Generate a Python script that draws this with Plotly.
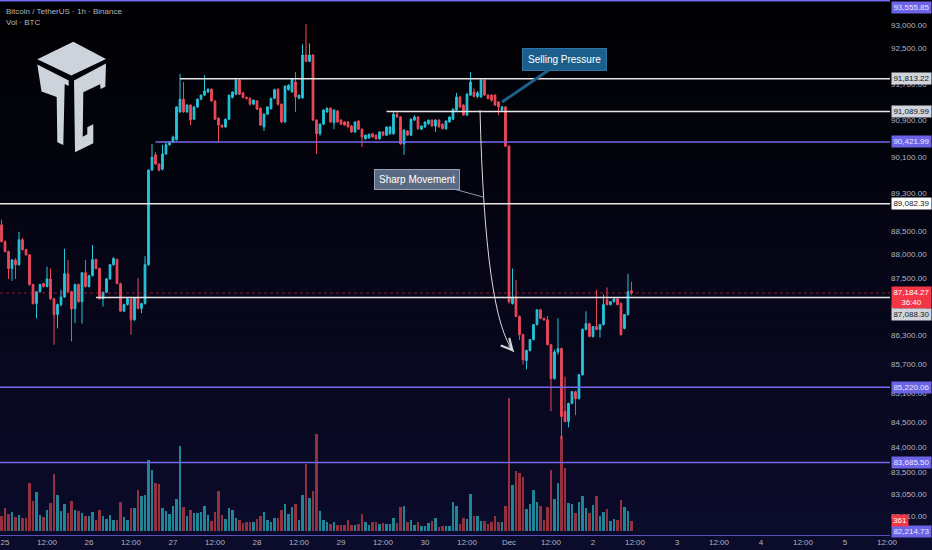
import math
import pandas as pd
import plotly.graph_objects as go

# ---------------- data (1h candles, Nov 24 23:00 -> Dec 2 10:00) ----------------
times = pd.date_range("2025-11-24 23:00", periods=181, freq="h")

open_ = [
    88630, 88270, 88060, 87700, 87880, 87780, 88310, 88100, 87990, 87360,
    86960, 87210, 87380, 87320, 87480, 87060, 86730, 86940, 87100, 87590,
    87210, 86850, 87360, 87000, 87610, 87320, 87550, 87890, 87700, 87060,
    87200, 87480, 87780, 87890, 87380, 86800, 86940, 87060, 86620, 87080,
    86860, 86960, 87780, 89810, 90140, 89940, 89830, 90160, 90360, 90420,
    90470, 91080, 91360, 91080, 91230, 90920, 91190, 91360, 91450, 91520,
    91580, 91320, 90940, 90790, 90750, 90920, 91400, 91470, 91780, 91500,
    91400, 91380, 91250, 91320, 91160, 90750, 91030, 91150, 91380, 91580,
    91250, 90860, 91570, 91520, 91740, 91380, 91390, 92340, 92200, 92340,
    90900, 90600, 90810, 91080, 91160, 90840, 91100, 90900, 90860, 90860,
    90770, 90640, 90880, 90700, 90490, 90510, 90600, 90570, 90490, 90640,
    90570, 90600, 90600, 91030, 90970, 90380, 90660, 90570, 90900, 90970,
    90700, 90750, 90820, 90900, 90770, 90900, 90810, 90710, 90860, 90920,
    91120, 91410, 91230, 91010, 91450, 91520, 91420, 91410, 91780, 91450,
    91450, 91450, 91300, 91120, 91190, 90330, 86960, 87100, 86690, 86310,
    85770, 85980, 86210, 86520, 86830, 86650, 86620, 86100, 85400, 85950,
    86020, 84730, 84520, 84890, 85130, 84990, 85480, 86420, 86540, 86270,
    86480, 86420, 86520, 87040, 86940, 87000, 87060, 86960, 86440, 86730,
    87230,
]
high = [
    88740, 88300, 88080, 87900, 87920, 88480, 88350, 88120, 88010, 87380,
    87220, 87380, 87400, 87740, 87700, 87080, 86960, 87250, 88120, 87880,
    87230, 87380, 87380, 87620, 87880, 87560, 88200, 87910, 87720, 87210,
    87500, 87800, 87940, 87910, 87400, 86960, 87080, 87100, 87090, 87500,
    86980, 87960, 89820, 90380, 90200, 89960, 90360, 90420, 90440, 90560,
    91200, 91920, 91740, 91250, 91250, 91210, 91380, 91460, 91890, 91600,
    91600, 91340, 90960, 90800, 90930, 91460, 91530, 91820, 91810, 91520,
    91420, 91400, 91350, 91340, 91180, 91050, 91200, 91390, 91590, 91600,
    91270, 91660, 91690, 91830, 91960, 91460, 92580, 93030, 92600, 92360,
    90920, 90830, 91140, 91180, 91180, 91140, 91120, 90920, 90880, 90880,
    90790, 90870, 90900, 90720, 90580, 90600, 90620, 90590, 90660, 90660,
    90760, 90770, 91080, 91080, 90990, 90700, 90680, 90940, 91010, 90990,
    90780, 90870, 90910, 90920, 90920, 90920, 90830, 90890, 90980, 91150,
    91500, 91430, 91250, 91500, 91960, 91600, 91540, 91830, 91810, 91470,
    91470, 91470, 91320, 91210, 91210, 90350, 87700, 87460, 86710, 86330,
    86000, 86220, 86530, 86840, 86850, 86670, 86700, 86120, 86000, 86650,
    86040, 85440, 84900, 85140, 85150, 85490, 86440, 86800, 86560, 86490,
    87250, 86530, 87150, 87300, 87010, 87070, 87080, 86980, 86740, 87590,
    87420,
]
low = [
    88260, 88040, 87480, 87440, 87480, 87760, 88080, 87970, 87340, 86940,
    86650, 87190, 87300, 87300, 87040, 86100, 86440, 86900, 87080, 87190,
    86170, 86550, 86980, 86540, 87300, 87300, 87530, 87680, 87050, 86900,
    87180, 87460, 87760, 87370, 86790, 86780, 86920, 86310, 86600, 86840,
    86760, 86940, 87760, 89790, 89920, 89780, 89800, 90140, 90340, 90400,
    90450, 91060, 91060, 91060, 90790, 90900, 91170, 91340, 91430, 91500,
    91300, 90900, 90420, 90720, 90730, 90900, 91380, 91450, 91450, 91380,
    91350, 91220, 91230, 91120, 90770, 90660, 91010, 91130, 91360, 91220,
    90830, 90840, 91550, 91500, 91080, 91360, 91370, 92180, 92180, 90880,
    90160, 90560, 90790, 91060, 90840, 90700, 90840, 90800, 90780, 90740,
    90620, 90620, 90690, 90310, 90470, 90490, 90520, 90470, 90470, 90560,
    90550, 90580, 90580, 90950, 90360, 90140, 90560, 90550, 90880, 90690,
    90680, 90730, 90800, 90760, 90640, 90740, 90700, 90690, 90840, 90900,
    91100, 91170, 91000, 90990, 91430, 91400, 91380, 91390, 91430, 91360,
    91300, 91210, 91010, 91100, 90310, 86960, 86940, 86680, 86200, 85690,
    85590, 85960, 86190, 86500, 86630, 86600, 86090, 84730, 85380, 85900,
    84160, 84500, 84400, 84870, 84650, 84970, 85460, 86400, 86260, 86250,
    86400, 86250, 86500, 86920, 86920, 86980, 86920, 86290, 86420, 86710,
    87140,
]
close = [
    88270, 88060, 87700, 87880, 87780, 88310, 88100, 87990, 87360, 86960,
    87210, 87360, 87320, 87480, 87060, 86730, 86940, 87100, 87590, 87210,
    86850, 87360, 87000, 87610, 87320, 87550, 87890, 87700, 87060, 87200,
    87480, 87780, 87910, 87380, 86800, 86940, 87060, 86620, 87080, 86860,
    86960, 87780, 89810, 90090, 89940, 89810, 90160, 90360, 90420, 90530,
    91190, 91360, 91080, 91230, 90900, 91190, 91360, 91450, 91540, 91580,
    91320, 90920, 90790, 90750, 90920, 91450, 91520, 91780, 91470, 91400,
    91380, 91250, 91340, 91140, 90790, 91030, 91190, 91380, 91570, 91250,
    90860, 91650, 91670, 91800, 91410, 91450, 92340, 92200, 92340, 90900,
    90600, 90810, 91120, 91160, 90860, 91120, 90860, 90810, 90790, 90750,
    90640, 90860, 90700, 90530, 90570, 90590, 90530, 90490, 90640, 90570,
    90750, 90750, 91030, 90970, 90380, 90680, 90570, 90920, 90970, 90710,
    90770, 90860, 90900, 90770, 90900, 90750, 90710, 90880, 90970, 91140,
    91410, 91190, 91010, 91470, 91740, 91420, 91500, 91780, 91450, 91370,
    91340, 91230, 91190, 91190, 90330, 87000, 87100, 86690, 86310, 85790,
    85980, 86210, 86520, 86830, 86650, 86620, 86100, 85400, 85950, 86020,
    84620, 84520, 84890, 85130, 84990, 85480, 86420, 86540, 86270, 86480,
    86420, 86520, 86940, 86940, 87000, 87060, 86940, 86310, 86730, 87210,
    87184.27,
]
volume = [
    530, 828, 612, 684, 504, 576, 468, 468, 1728, 1080,
    1404, 576, 504, 756, 1008, 2052, 1296, 720, 972, 648,
    1080, 756, 720, 648, 540, 540, 684, 396, 756, 540,
    432, 576, 396, 396, 1044, 504, 396, 828, 828, 1476,
    1260, 1296, 2556, 2196, 1728, 1692, 828, 720, 612, 900,
    1152, 3060, 864, 540, 756, 648, 648, 684, 900, 576,
    360, 684, 1440, 576, 432, 828, 756, 468, 396, 288,
    324, 324, 324, 432, 540, 684, 396, 324, 468, 468,
    756, 972, 612, 864, 972, 396, 1296, 2412, 1188, 1440,
    3492, 720, 396, 324, 252, 324, 216, 216, 216, 396,
    216, 216, 252, 612, 324, 216, 324, 324, 252, 288,
    252, 252, 468, 288, 864, 900, 324, 396, 216, 324,
    180, 180, 288, 360, 468, 144, 180, 180, 180, 1044,
    900, 252, 468, 432, 1332, 540, 540, 360, 360, 252,
    324, 540, 324, 324, 900, 4788, 1656, 2160, 2088, 1944,
    792, 972, 1476, 1044, 900, 396, 864, 2196, 1152, 1728,
    3420, 2268, 1008, 972, 648, 1044, 1260, 828, 648, 936,
    1260, 540, 684, 792, 360, 432, 396, 1116, 864, 720,
    361,
]

# price-axis tick values / labels
y_tickvals = [93000, 92500, 91700, 90900, 90100, 89300, 88500, 88000, 87500,
              86900, 86300, 85700, 85100, 84500, 84000, 83500, 83050, 82610]
y_ticktext = ["{:,.2f}".format(v) for v in y_tickvals]

# time-axis ticks
x_tickvals = pd.date_range("2025-11-25 00:00", "2025-12-05 12:00", freq="12h")
x_ticktext = ["25", "12:00", "26", "12:00", "27", "12:00", "28", "12:00",
              "29", "12:00", "30", "12:00", "Dec", "12:00", "2", "12:00",
              "3", "12:00", "4", "12:00", "5", "12:00"]

# horizontal levels: (price, start time, kind)
levels = [
    (93555.85, "2025-11-24 20:00", "purple"),
    (91813.22, "2025-11-27 02:00", "white"),
    (91089.99, "2025-11-29 13:00", "white"),
    (90421.99, "2025-11-26 19:00", "purple"),
    (89082.39, "2025-11-24 20:00", "white"),
    (87088.30, "2025-11-26 02:00", "white"),
    (85220.06, "2025-11-24 20:00", "purple"),
    (83685.50, "2025-11-24 20:00", "purple"),
    (82214.73, "2025-11-24 20:00", "purple"),
]
last_price = 87184.27
last_volume = 361

# ---------------- styling ----------------
FONT = "Liberation Sans, Arial, sans-serif"
UP = "#26c6da"
DOWN = "#ef4a5a"
PURPLE = "#7468ee"
WHITE_LINE = "#e6e6e6"
TXT = "#b2b5be"
PLOT_W, PLOT_H = 890.0, 536.0

def pxp(x, y):
    return x / PLOT_W, 1 - y / PLOT_H

vol_colors = ["#1f8597" if c >= o else "#95303f" for o, c in zip(open_, close)]

fig = go.Figure()
fig.add_trace(go.Bar(
    x=times, y=volume, marker_color=vol_colors, marker_line_width=0,
    width=0.72 * 3600 * 1000, yaxis="y", hoverinfo="skip", showlegend=False))
fig.add_trace(go.Candlestick(
    x=times, open=open_, high=high, low=low, close=close, yaxis="y2",
    increasing=dict(line=dict(color=UP, width=1), fillcolor=UP),
    decreasing=dict(line=dict(color=DOWN, width=1), fillcolor=DOWN),
    whiskerwidth=0, hoverinfo="skip", showlegend=False))

shapes = []
# background gradient (black top -> dark navy bottom)
n = 28
y_lo, y_hi = -14 / PLOT_H, 1.0
for i in range(n):
    t = i / (n - 1)
    r = int(round(1 + 10 * t)); g = int(round(1 + 10 * t)); b = int(round(3 + 40 * t))
    ya = y_hi - (y_hi - y_lo) * i / n
    yb = y_hi - (y_hi - y_lo) * (i + 1) / n
    shapes.append(dict(type="rect", xref="paper", yref="paper", x0=0, x1=932 / PLOT_W,
                       y0=yb, y1=ya + 0.002, fillcolor=f"rgb({r},{g},{b})",
                       line=dict(width=0), layer="below"))

# logo (decorative watermark)
def poly(pts):
    s = ""
    for k, (x, y) in enumerate(pts):
        px, py = pxp(x, y)
        s += ("M" if k == 0 else "L") + f"{px:.5f},{py:.5f} "
    return s + "Z"

logo_col = "#cdd3db"
logo_parts = [
    [(37.3, 59.3), (73.3, 41.7), (106, 59), (71.3, 75.5)],
    [(37.3, 64.5), (68.7, 80.5), (68.7, 86), (64.7, 84), (63.3, 145), (57.3, 142.3),
     (56.7, 97), (41.5, 91.5)],
    [(74, 80.5), (106, 63.5), (105.3, 86.7), (100.7, 89), (100, 84.3), (83.3, 92.3),
     (82.7, 136.7), (87.3, 134.3), (87.3, 127.3), (93.3, 124.3), (93.3, 143.3), (75, 152.3)],
]
for p in logo_parts:
    shapes.append(dict(type="path", xref="paper", yref="paper", path=poly(p),
                       fillcolor=logo_col, line=dict(width=0), layer="above"))

# level lines
for price, start, kind in levels:
    col = PURPLE if kind == "purple" else WHITE_LINE
    shapes.append(dict(type="line", xref="x", yref="y2", x0=start, x1="2025-12-07",
                       y0=price, y1=price, line=dict(color=col, width=1.5), layer="above"))
# current price dotted line
shapes.append(dict(type="line", xref="paper", yref="y2", x0=0, x1=1,
                   y0=last_price, y1=last_price,
                   line=dict(color="rgba(242,54,69,0.55)", width=1, dash="dot"), layer="above"))

# curved arrow (Sharp Movement)
a0 = pxp(480, 110); a1 = pxp(485, 318); a2 = pxp(514, 352)
shapes.append(dict(type="path", xref="paper", yref="paper",
                   path=f"M{a0[0]:.5f},{a0[1]:.5f} Q{a1[0]:.5f},{a1[1]:.5f} {a2[0]:.5f},{a2[1]:.5f}",
                   line=dict(color="#d9d9d9", width=1), layer="above"))

annotations = []
# legend texts
t1 = pxp(4, 11); t2 = pxp(4, 23)
annotations.append(dict(xref="paper", yref="paper", x=t1[0], y=t1[1], xanchor="left",
                        yanchor="middle", text="Bitcoin / TetherUS · 1h · Binance",
                        showarrow=False, font=dict(family=FONT, size=8, color=TXT)))
annotations.append(dict(xref="paper", yref="paper", x=t2[0], y=t2[1], xanchor="left",
                        yanchor="middle", text="Vol · BTC",
                        showarrow=False, font=dict(family=FONT, size=8, color=TXT)))

# arrowhead for the curve
annotations.append(dict(xref="paper", yref="paper", x=a2[0], y=a2[1], ax=-7, ay=-8,
                        text="", showarrow=True, arrowhead=5, arrowsize=2.2,
                        arrowwidth=1, arrowcolor="#d9d9d9", standoff=0))

# Selling Pressure callout
annotations.append(dict(xref="x", yref="y2", x="2025-11-30 22:00", y=math.log10(91297),
                        ax=63, ay=-43, text="Selling Pressure", showarrow=True,
                        arrowhead=0, arrowwidth=3, arrowcolor="#1c5f8c", standoff=0,
                        bgcolor="#1c5f8c", bordercolor="#2b76a6", borderwidth=1,
                        borderpad=5, font=dict(family=FONT, size=10, color="#ffffff")))
# Sharp Movement callout
sm = pxp(483, 197)
annotations.append(dict(xref="paper", yref="paper", x=sm[0], y=sm[1],
                        ax=-66, ay=-18, text="Sharp Movement", showarrow=True,
                        arrowhead=0, arrowwidth=1, arrowcolor="#8e9ab0", standoff=0,
                        bgcolor="#5b6a83", bordercolor="#97a3b8", borderwidth=1,
                        borderpad=4, font=dict(family=FONT, size=10, color="#ffffff")))

# right-side price labels
def price_label(price, text, bg, fg, yshift=0, **kw):
    d = dict(xref="paper", x=1, xanchor="left", xshift=1, yref="y2",
             y=math.log10(price), yshift=yshift, text=text, showarrow=False,
             bgcolor=bg, font=dict(family=FONT, size=8, color=fg), borderpad=1,
             width=37, align="center")
    d.update(kw)
    annotations.append(d)

price_label(93555.85, "93,555.85", "#6d63e6", "#e8e8ff", yshift=-7)
price_label(91813.22, "91,813.22", "#d1d4dc", "#131722")
price_label(91089.99, "91,089.99", "#d1d4dc", "#131722")
price_label(90421.99, "90,421.99", "#6d63e6", "#e8e8ff")
price_label(89082.39, "89,082.39", "#ffffff", "#131722")
price_label(last_price, "87,184.27<br>36:40", "#f23645", "#ffffff", yshift=-5)
price_label(87088.30, "87,088.30", "#d1d4dc", "#131722", yshift=-17)
price_label(85220.06, "85,220.06", "#6d63e6", "#e8e8ff")
price_label(83685.50, "83,685.50", "#6d63e6", "#e8e8ff")
price_label(82214.73, "82,214.73", "#6d63e6", "#e8e8ff", yshift=4)
annotations.append(dict(xref="paper", x=1, xanchor="left", xshift=1, yref="y",
                        y=last_volume, text=str(last_volume), showarrow=False,
                        bgcolor="#f23645", font=dict(family=FONT, size=8, color="#ffffff"),
                        borderpad=1))

fig.update_layout(
    width=932, height=550,
    margin=dict(l=0, r=42, t=0, b=14),
    paper_bgcolor="#000000", plot_bgcolor="rgba(0,0,0,0)",
    shapes=shapes, annotations=annotations,
    showlegend=False, bargap=0,
    xaxis=dict(type="date", range=["2025-11-24 22:34", "2025-12-05 12:52"],
               tickmode="array", tickvals=x_tickvals, ticktext=x_ticktext,
               showgrid=False, zeroline=False, showline=False, ticks="",
               tickfont=dict(family=FONT, size=8, color=TXT),
               rangeslider=dict(visible=False), fixedrange=True),
    yaxis=dict(range=[-180, 19116], visible=False, showgrid=False, zeroline=False,
               fixedrange=True),
    yaxis2=dict(type="log", overlaying="y", side="right",
                range=[math.log10(82214), math.log10(93575)],
                tickmode="array", tickvals=y_tickvals, ticktext=y_ticktext,
                showgrid=False, zeroline=False, showline=False, ticks="",
                tickfont=dict(family=FONT, size=8, color=TXT), fixedrange=True),
)

fig.write_html("out.html", config={"displayModeBar": False},
               post_script="document.body.style.margin='0';document.body.style.overflow='hidden';")
